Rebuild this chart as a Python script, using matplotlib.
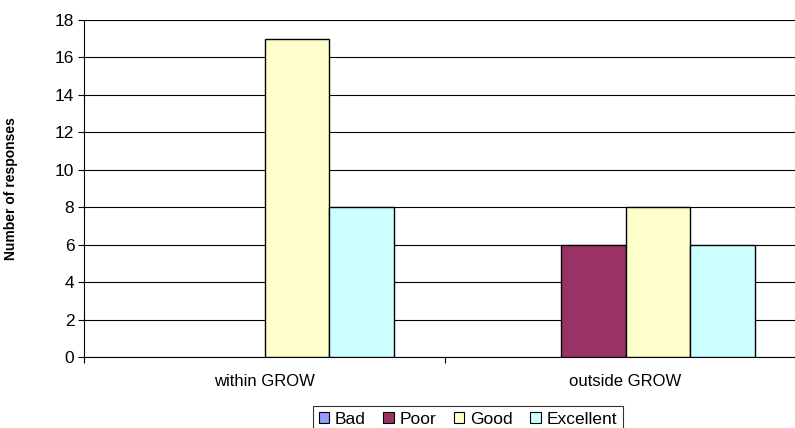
import numpy as np
import matplotlib
matplotlib.use("Agg")
import matplotlib.pyplot as plt
from matplotlib.patches import Patch

plt.rcParams['font.family'] = ['Liberation Sans', 'DejaVu Sans']

groups = ["within GROW", "outside GROW"]
ratings = ["Bad", "Poor", "Good", "Excellent"]
counts = {
    "Bad": [0, 0],
    "Poor": [0, 6],
    "Good": [17, 8],
    "Excellent": [8, 6],
}
colors = ["#9999FF", "#993366", "#FFFFCC", "#CCFFFF"]

fig = plt.figure(figsize=(7.95, 4.28), dpi=100)
ax = fig.add_axes([84 / 795, 1 - 357 / 428, 722 / 795, 337 / 428])

x = np.arange(len(groups))
w = 0.18
for i, (r, c) in enumerate(zip(ratings, colors)):
    off = (i - 1.5) * w
    bars = ax.bar(x + off, counts[r], w, color=c, edgecolor="black",
                  linewidth=1.0, zorder=3)
    # empty bars leave no outline on the axis
    for b, v in zip(bars, counts[r]):
        if v == 0:
            b.set_visible(False)

ax.set_xlim(-0.5, 1.5)
ax.set_ylim(0, 18)
ax.set_yticks(range(0, 19, 2))
ax.yaxis.grid(True, color="black", linewidth=0.8, zorder=0)
ax.set_axisbelow(True)

# category labels sit between the boundary ticks
ax.set_xticks([-0.5, 0.5, 1.5])
ax.set_xticklabels(["", "", ""])
ax.set_xticks(x, minor=True)
ax.set_xticklabels(groups, minor=True, fontsize=12)
ax.tick_params(axis="x", which="minor", length=0, pad=12)
ax.tick_params(axis="x", which="major", length=4, direction="out", width=0.8)
ax.tick_params(axis="y", length=4, direction="out", width=0.8, labelsize=12.5,
               pad=3)

for s in ["top", "right"]:
    ax.spines[s].set_visible(False)
ax.spines["left"].set_linewidth(0.8)
ax.spines["bottom"].set_linewidth(0.8)

ax.set_ylabel("Number of responses", fontsize=10, fontweight="bold")
ax.yaxis.set_label_coords(-0.092, 0.5)

handles = [Patch(facecolor=c, edgecolor="black", linewidth=0.8, label=r)
           for r, c in zip(ratings, colors)]
leg = fig.legend(handles=handles, loc="upper center",
                 bbox_to_anchor=(468 / 795, 1 - 406 / 428),
                 ncol=4, fontsize=12.5, frameon=True, fancybox=False,
                 handlelength=0.6, handleheight=0.6, handletextpad=0.35,
                 columnspacing=1.0, borderpad=0.35, borderaxespad=0,
                 edgecolor="black")
leg.get_frame().set_linewidth(0.8)

fig.savefig("out.png", dpi=100)
